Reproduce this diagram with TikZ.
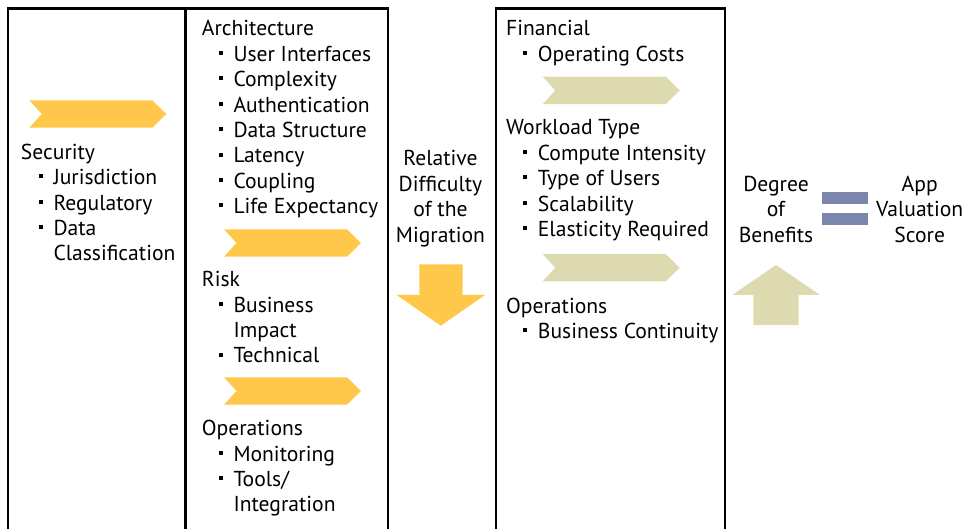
\documentclass[tikz,border=0pt]{standalone}
\usepackage{fontspec}
\setmainfont{PT Sans}
\definecolor{chevyel}{HTML}{FFC84A}
\definecolor{chevsage}{HTML}{DCDAAE}
\definecolor{eqblue}{HTML}{7B86AD}
\newcommand{\bul}{\makebox[15pt][l]{\raisebox{6.3pt}{\rule{4pt}{4pt}}}}

\begin{document}
\begin{tikzpicture}[x=1pt, y=-1pt]
        \tikzstyle{every node}=[inner sep=0pt, font=\fontsize{21.6}{24}\selectfont]
        \tikzstyle{txt}=[anchor=base west]
        \tikzstyle{mid}=[anchor=base]
        \tikzstyle{box}=[draw=black, line width=2.3pt]
        \tikzset{chev/.pic={\fill (0,0) -- (123,0) -- (137,13.7) -- (123,27.4) -- (0,27.4) -- (12.5,13.7) -- cycle;}}
        \useasboundingbox (0,0) rectangle (964,529);
        \clip (0,0) rectangle (964,529);
        % the three columns
        \draw[box] (8.3,8.5) rectangle (185.5,530.5);
        \draw[box] (185.5,8.5) rectangle (388,530.5);
        \draw[box] (496,8.5) rectangle (724.7,530.5);
        % security
        \pic[fill=chevyel] at (29.3,100.3) {chev};
        \node[txt] (sec) at (20.7,159.3) {Security};
        \foreach \t [count=\i] in {Jurisdiction, Regulatory, Data}
            \node[txt] (sec\i) at (38.3,159.3+25.4*\i) {\bul\t};
        \node[txt] (sec4) at (53.3,260.9) {Classification};
        % architecture, risk, operations
        \node[txt] (arch) at (201.7,36) {Architecture};
        \foreach \t [count=\i] in {User Interfaces, Complexity, Authentication, Data Structure, Latency, Coupling, Life Expectancy}
            \node[txt] (arch\i) at (218.3,36+25.4*\i) {\bul\t};
        \pic[fill=chevyel] at (224,229.3) {chev};
        \node[txt] (risk) at (201.7,286.7) {Risk};
        \node[txt] (risk1) at (218.3,312.1) {\bul Business};
        \node[txt] (risk2) at (233.3,337.5) {Impact};
        \node[txt] (risk3) at (218.3,362.9) {\bul Technical};
        \pic[fill=chevyel] at (224,377.3) {chev};
        \node[txt] (ops) at (201.7,435.7) {Operations};
        \node[txt] (ops1) at (218.3,461.1) {\bul Monitoring};
        \node[txt] (ops2) at (218.3,486.5) {\bul Tools/};
        \node[txt] (ops3) at (233.3,511.9) {Integration};
        % difficulty
        \foreach \t [count=\i] in {Relative, Difficulty, of the, Migration}
            \node[mid] (rel\i) at (440.5,140.6+25.4*\i) {\t};
        \fill[chevyel] (419.3,264.3) -- (462.7,264.3) -- (462.7,295) -- (485,295) -- (440.8,325.7) -- (396.7,295) -- (419.3,295) -- cycle;
        % financial, workload, operations
        \node[txt] (fin) at (506,36) {Financial};
        \node[txt] (fin1) at (522.7,61.4) {\bul Operating Costs};
        \pic[fill=chevsage] at (542.7,76.7) {chev};
        \node[txt] (wl) at (506,135) {Workload Type};
        \foreach \t [count=\i] in {Compute Intensity, Type of Users, Scalability, Elasticity Required}
            \node[txt] (wl\i) at (522.7,135+25.4*\i) {\bul\t};
        \pic[fill=chevsage] at (542.7,254) {chev};
        \node[txt] (bops) at (506,313.3) {Operations};
        \node[txt] (bops1) at (522.7,338.7) {\bul Business Continuity};
        % benefits
        \foreach \t [count=\i] in {Degree, of, Benefits}
            \node[mid] (deg\i) at (776,166+25.4*\i) {\t};
        \fill[chevsage] (753.3,325) -- (753.3,295) -- (732.3,295) -- (776,265) -- (820,295) -- (798.7,295) -- (798.7,325) -- cycle;
        \fill[eqblue] (822.3,191.7) rectangle (868.3,203.7);
        \fill[eqblue] (822.3,212.7) rectangle (868.3,225);
        \foreach \t [count=\i] in {App, Valuation, Score}
            \node[mid] (app\i) at (919.7,166+25.4*\i) {\t};
\end{tikzpicture}
\end{document}
